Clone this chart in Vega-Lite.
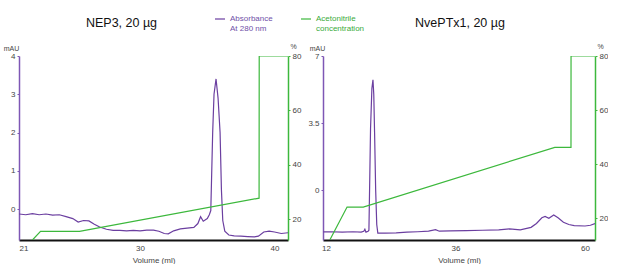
{
  "$schema": "https://vega.github.io/schema/vega-lite/v6.json",
  "padding": {"left": 3, "top": 13, "right": 0, "bottom": 0},
  "spacing": 6,
  "config": {
    "view": {"stroke": null},
    "font": "Liberation Sans",
    "axis": {"grid": false, "labelFontSize": 8, "labelColor": "#444", "titleFontWeight": "normal", "titleFontSize": 8, "titleColor": "#444", "tickSize": 2, "labelPadding": 2},
    "title": {"fontSize": 12.5, "fontWeight": "normal", "color": "#111"},
    "line": {"strokeWidth": 1.2}
  },
  "datasets": {
    "nep3_abs": [
      {"v": 21.0, "a": -0.13}, {"v": 21.5, "a": -0.15}, {"v": 22.0, "a": -0.12}, {"v": 22.5, "a": -0.15},
      {"v": 23.0, "a": -0.13}, {"v": 23.5, "a": -0.16}, {"v": 24.0, "a": -0.15}, {"v": 24.5, "a": -0.2},
      {"v": 25.0, "a": -0.25}, {"v": 25.4, "a": -0.34}, {"v": 25.8, "a": -0.3}, {"v": 26.2, "a": -0.31},
      {"v": 26.6, "a": -0.4}, {"v": 27.0, "a": -0.47}, {"v": 27.5, "a": -0.53}, {"v": 28.0, "a": -0.56},
      {"v": 28.5, "a": -0.56}, {"v": 29.0, "a": -0.57}, {"v": 29.5, "a": -0.56}, {"v": 30.0, "a": -0.57},
      {"v": 30.5, "a": -0.55}, {"v": 31.0, "a": -0.55}, {"v": 31.4, "a": -0.58}, {"v": 31.8, "a": -0.64},
      {"v": 32.1, "a": -0.65}, {"v": 32.5, "a": -0.57}, {"v": 33.0, "a": -0.52}, {"v": 33.5, "a": -0.5},
      {"v": 34.0, "a": -0.48}, {"v": 34.3, "a": -0.38}, {"v": 34.5, "a": -0.2}, {"v": 34.7, "a": -0.32},
      {"v": 35.0, "a": -0.25}, {"v": 35.15, "a": -0.15}, {"v": 35.26, "a": -0.04}, {"v": 35.4, "a": 2.0},
      {"v": 35.5, "a": 3.0}, {"v": 35.65, "a": 3.4}, {"v": 35.8, "a": 2.9}, {"v": 35.95, "a": 2.0},
      {"v": 36.05, "a": 0.5}, {"v": 36.15, "a": -0.3}, {"v": 36.3, "a": -0.58}, {"v": 36.6, "a": -0.68},
      {"v": 37.0, "a": -0.7}, {"v": 37.5, "a": -0.71}, {"v": 38.0, "a": -0.72}, {"v": 38.5, "a": -0.73},
      {"v": 38.8, "a": -0.71}, {"v": 39.2, "a": -0.6}, {"v": 39.6, "a": -0.58}, {"v": 40.0, "a": -0.6},
      {"v": 40.5, "a": -0.64}, {"v": 41.0, "a": -0.62}
    ],
    "nep3_acn": [
      {"v": 22.0, "p": 12.3}, {"v": 22.6, "p": 15.5}, {"v": 25.5, "p": 15.5},
      {"v": 38.85, "p": 27.7}, {"v": 38.86, "p": 80}, {"v": 41.0, "p": 80}
    ],
    "nve_abs": [
      {"v": 11.5, "a": -2.19}, {"v": 13.0, "a": -2.18}, {"v": 15.0, "a": -2.2}, {"v": 17.0, "a": -2.18},
      {"v": 18.5, "a": -2.2}, {"v": 19.0, "a": -2.15}, {"v": 19.2, "a": -2.05}, {"v": 19.4, "a": -2.2},
      {"v": 19.8, "a": -2.15}, {"v": 19.95, "a": -2.1}, {"v": 20.1, "a": 0.5}, {"v": 20.25, "a": 3.2},
      {"v": 20.5, "a": 5.3}, {"v": 20.7, "a": 5.76}, {"v": 20.85, "a": 5.0}, {"v": 21.0, "a": 3.0},
      {"v": 21.2, "a": 0.0}, {"v": 21.4, "a": -1.8}, {"v": 21.6, "a": -2.25}, {"v": 23.0, "a": -2.25},
      {"v": 25.0, "a": -2.24}, {"v": 27.0, "a": -2.2}, {"v": 29.0, "a": -2.18}, {"v": 31.0, "a": -2.15},
      {"v": 32.3, "a": -2.07}, {"v": 33.0, "a": -2.15}, {"v": 35.0, "a": -2.13}, {"v": 38.0, "a": -2.12},
      {"v": 41.0, "a": -2.1}, {"v": 44.0, "a": -2.08}, {"v": 46.0, "a": -2.03}, {"v": 48.0, "a": -2.08},
      {"v": 50.0, "a": -1.95}, {"v": 51.0, "a": -1.75}, {"v": 52.0, "a": -1.45}, {"v": 52.6, "a": -1.38},
      {"v": 53.3, "a": -1.48}, {"v": 54.2, "a": -1.3}, {"v": 55.0, "a": -1.45}, {"v": 56.0, "a": -1.68},
      {"v": 57.0, "a": -1.8}, {"v": 58.0, "a": -1.86}, {"v": 60.0, "a": -1.88}, {"v": 61.0, "a": -1.84},
      {"v": 61.85, "a": -1.75}
    ],
    "nve_acn": [
      {"v": 12.7, "p": 11.9}, {"v": 15.9, "p": 24.1}, {"v": 18.9, "p": 24.1},
      {"v": 54.4, "p": 46.2}, {"v": 57.4, "p": 46.2}, {"v": 57.41, "p": 80}, {"v": 61.85, "p": 80}
    ]
  },
  "resolve": {"scale": {"color": "shared"}, "legend": {"color": "shared"}},
  "hconcat": [
    {
      "width": 269,
      "height": 184,
      "title": {"text": "NEP3, 20 µg", "dx": -32, "offset": 13},
      "layer": [
        {
          "data": {"name": "nep3_abs"},
          "mark": {"type": "line", "clip": true},
          "encoding": {
            "x": {"field": "v", "type": "quantitative", "scale": {"domain": [21, 41], "nice": false, "zero": false},
              "axis": {"values": [21, 30, 40], "title": "Volume (ml)", "domainColor": "#111", "domainWidth": 2, "ticks": false, "labelPadding": 4, "titlePadding": 4}},
            "y": {"field": "a", "type": "quantitative", "scale": {"domain": [-0.81, 4], "nice": false, "zero": false},
              "axis": {"orient": "left", "values": [0, 1, 2, 3, 4], "domainColor": "#7e57b5", "domainWidth": 1.5, "tickColor": "#7e57b5",
                "title": "mAU", "titleAngle": 0, "titleX": -8, "titleY": -5, "titleAlign": "center", "titleBaseline": "bottom", "titleFontSize": 7}},
            "color": {"datum": "Absorbance", "type": "nominal",
              "scale": {"domain": ["Absorbance", "Acetonitrile"], "range": ["#6b3fa0", "#3cb83c"]},
              "legend": {"orient": "none", "legendX": 195, "legendY": -43, "direction": "horizontal", "title": null,
                "symbolType": "stroke", "symbolSize": 100, "symbolStrokeWidth": 2, "labelFontSize": 8, "labelOffset": 4, "columnPadding": 25,
                "labelExpr": "datum.value == 'Absorbance' ? ['Absorbance', 'At 280 nm'] : ['Acetonitrile', 'concentration']",
                "labelColor": {"expr": "datum.value == 'Absorbance' ? '#7050a8' : '#3aaa3a'"}}}
          }
        },
        {
          "data": {"name": "nep3_acn"},
          "mark": {"type": "line", "clip": true},
          "encoding": {
            "x": {"field": "v", "type": "quantitative"},
            "y": {"field": "p", "type": "quantitative", "scale": {"domain": [12.3, 80], "nice": false, "zero": false},
              "axis": {"orient": "right", "values": [20, 40, 60, 80], "domainColor": "#3cb83c", "domainWidth": 1.5, "tickColor": "#3cb83c",
                "title": "%", "titleAngle": 0, "titleX": 5, "titleY": -7, "titleAlign": "center", "titleBaseline": "bottom", "titleFontSize": 7}},
            "color": {"datum": "Acetonitrile", "type": "nominal"}
          }
        }
      ],
      "resolve": {"scale": {"y": "independent"}}
    },
    {
      "width": 272,
      "height": 184,
      "title": {"text": "NvePTx1, 20 µg", "dx": 1, "offset": 13},
      "layer": [
        {
          "data": {"name": "nve_abs"},
          "mark": {"type": "line", "clip": true},
          "encoding": {
            "x": {"field": "v", "type": "quantitative", "scale": {"domain": [11.44, 61.85], "nice": false, "zero": false},
              "axis": {"values": [12, 36, 60], "title": "Volume (ml)", "domainColor": "#111", "domainWidth": 2, "ticks": false, "labelPadding": 4, "titlePadding": 4}},
            "y": {"field": "a", "type": "quantitative", "scale": {"domain": [-2.61, 7], "nice": false, "zero": false},
              "axis": {"orient": "left", "values": [0, 3.5, 7], "format": ".1~f", "domainColor": "#7e57b5", "domainWidth": 1.5, "tickColor": "#7e57b5",
                "title": "mAU", "titleAngle": 0, "titleX": -6, "titleY": -5, "titleAlign": "center", "titleBaseline": "bottom", "titleFontSize": 7}},
            "color": {"datum": "Absorbance", "type": "nominal"}
          }
        },
        {
          "data": {"name": "nve_acn"},
          "mark": {"type": "line", "clip": true},
          "encoding": {
            "x": {"field": "v", "type": "quantitative"},
            "y": {"field": "p", "type": "quantitative", "scale": {"domain": [11.9, 80], "nice": false, "zero": false},
              "axis": {"orient": "right", "values": [20, 40, 60, 80], "domainColor": "#3cb83c", "domainWidth": 1.5, "tickColor": "#3cb83c",
                "title": "%", "titleAngle": 0, "titleX": 5, "titleY": -7, "titleAlign": "center", "titleBaseline": "bottom", "titleFontSize": 7}},
            "color": {"datum": "Acetonitrile", "type": "nominal"}
          }
        }
      ],
      "resolve": {"scale": {"y": "independent"}}
    }
  ]
}
